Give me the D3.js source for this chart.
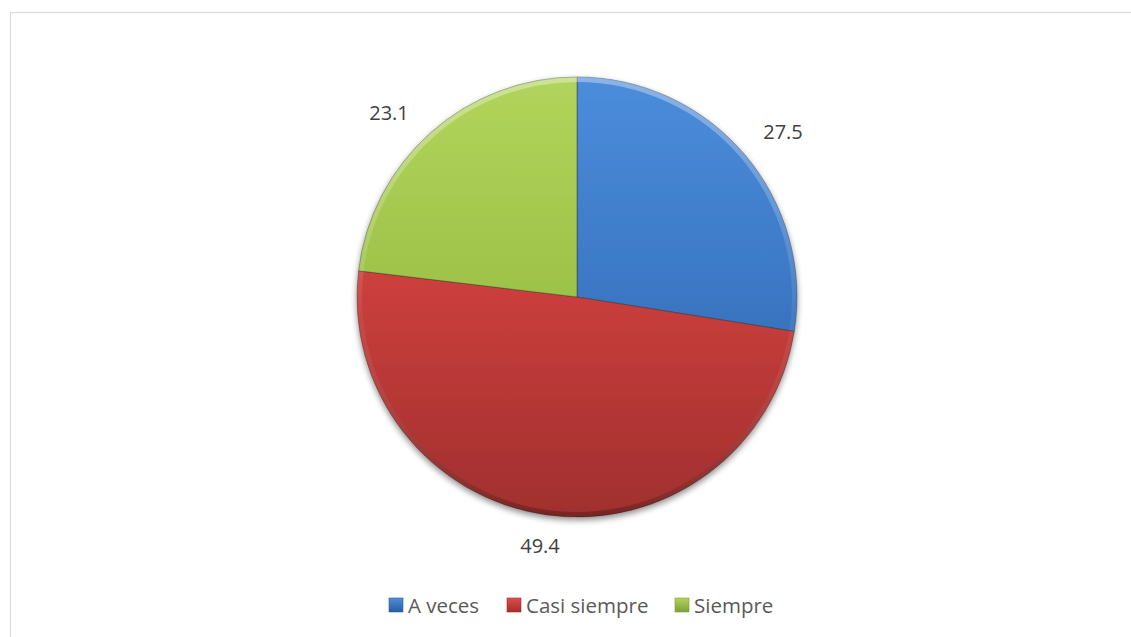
<!DOCTYPE html>
<html>
<head>
<meta charset="utf-8">
<script src="https://cdn.jsdelivr.net/npm/d3@7"></script>
<style>
  html, body { margin: 0; padding: 0; background: #fff; }
  svg { display: block; }
</style>
</head>
<body>
<svg id="chart" width="1131" height="637"></svg>
<script>
// Response distribution (percent)
const categories = ["A veces", "Casi siempre", "Siempre"];
const values = [27.5, 49.4, 23.1];
const labels = ["27.5", "49.4", "23.1"];

const palette = {
  "A veces":      { light: "#4c8ddb", base: "#3b77c4", dark: "#2c5d9c" },
  "Casi siempre": { light: "#e04c4a", base: "#c93e3c", dark: "#a02f2e" },
  "Siempre":      { light: "#b2d45c", base: "#9dc248", dark: "#809f37" }
};

const svg = d3.select("#chart");
const W = 1131, H = 637;
const cx = 577, cy = 297, R = 220;

// chart frame
svg.append("rect")
  .attr("x", 10.5).attr("y", 12.5)
  .attr("width", W + 20).attr("height", H + 20)
  .attr("fill", "#fff").attr("stroke", "#d9d9d9").attr("stroke-width", 1.2);

const defs = svg.append("defs");

// soft shadow under the pie
const shadow = defs.append("filter").attr("id", "shadow")
  .attr("x", "-20%").attr("y", "-20%").attr("width", "140%").attr("height", "140%");
shadow.append("feGaussianBlur").attr("in", "SourceAlpha").attr("stdDeviation", 3);
shadow.append("feOffset").attr("dx", 0).attr("dy", 3).attr("result", "off");
shadow.append("feComponentTransfer").append("feFuncA").attr("type", "linear").attr("slope", 0.45);
const merge = shadow.append("feMerge");
merge.append("feMergeNode");
merge.append("feMergeNode").attr("in", "SourceGraphic");

// gradients are in the pie group's local coordinates (centre at 0,0)
categories.forEach((c, i) => {
  const p = palette[c];
  const g = defs.append("linearGradient").attr("id", "grad" + i)
    .attr("gradientUnits", "userSpaceOnUse")
    .attr("x1", 0).attr("y1", -R).attr("x2", 0).attr("y2", R);
  g.append("stop").attr("offset", "0%").attr("stop-color", p.light);
  g.append("stop").attr("offset", "50%").attr("stop-color", p.base);
  g.append("stop").attr("offset", "100%").attr("stop-color", p.dark);
});

const pie = d3.pie().sort(null).value(d => d.v);
const arcs = pie(categories.map((c, i) => ({ c, v: values[i], label: labels[i] })));

const arc = d3.arc().innerRadius(0).outerRadius(R);
const rimArc = d3.arc().innerRadius(R - 5).outerRadius(R);

const g = svg.append("g").attr("transform", `translate(${cx},${cy})`);

const slices = g.append("g").attr("filter", "url(#shadow)");
slices.selectAll("path.slice")
  .data(arcs).join("path")
  .attr("class", "slice")
  .attr("d", arc)
  .attr("fill", (d, i) => `url(#grad${i})`)
  .attr("stroke", "#2a2a2a").attr("stroke-opacity", 0.5).attr("stroke-width", 0.8);

// bevel: lighter rim along the top, darker toward the bottom
const rimGrad = defs.append("linearGradient").attr("id", "rim")
  .attr("gradientUnits", "userSpaceOnUse")
  .attr("x1", 0).attr("y1", -R).attr("x2", 0).attr("y2", R);
rimGrad.append("stop").attr("offset", "0%").attr("stop-color", "#fff").attr("stop-opacity", 0.35);
rimGrad.append("stop").attr("offset", "55%").attr("stop-color", "#fff").attr("stop-opacity", 0.05);
rimGrad.append("stop").attr("offset", "100%").attr("stop-color", "#000").attr("stop-opacity", 0.25);

g.selectAll("path.rim")
  .data(arcs).join("path")
  .attr("class", "rim")
  .attr("d", rimArc)
  .attr("fill", "url(#rim)");

// value labels placed outside each slice
const labelPos = {
  "A veces": [783, 131],
  "Casi siempre": [540, 545],
  "Siempre": [389, 112]
};
svg.selectAll("text.val")
  .data(arcs).join("text")
  .attr("class", "val")
  .attr("x", d => labelPos[d.data.c][0])
  .attr("y", d => labelPos[d.data.c][1])
  .attr("text-anchor", "middle")
  .attr("dominant-baseline", "central")
  .attr("font-family", "Open Sans, Noto Sans, sans-serif")
  .attr("font-size", 20)
  .attr("fill", "#404040")
  .text(d => d.data.label);

// legend
const legendX = [389, 507, 675];
const leg = svg.append("g");
categories.forEach((c, i) => {
  const p = palette[c];
  const lg = defs.append("linearGradient").attr("id", "lg" + i)
    .attr("x1", 0).attr("y1", 0).attr("x2", 0).attr("y2", 1);
  lg.append("stop").attr("offset", "0%").attr("stop-color", p.light);
  lg.append("stop").attr("offset", "100%").attr("stop-color", p.dark);
  leg.append("rect")
    .attr("x", legendX[i]).attr("y", 598)
    .attr("width", 14).attr("height", 14)
    .attr("fill", `url(#lg${i})`)
    .attr("stroke", p.dark).attr("stroke-width", 0.6);
  leg.append("text")
    .attr("x", legendX[i] + 19).attr("y", 605)
    .attr("dominant-baseline", "central")
    .attr("font-family", "Open Sans, Noto Sans, sans-serif")
    .attr("font-size", 20.5)
    .attr("fill", "#595959")
    .text(c);
});
</script>
</body>
</html>
